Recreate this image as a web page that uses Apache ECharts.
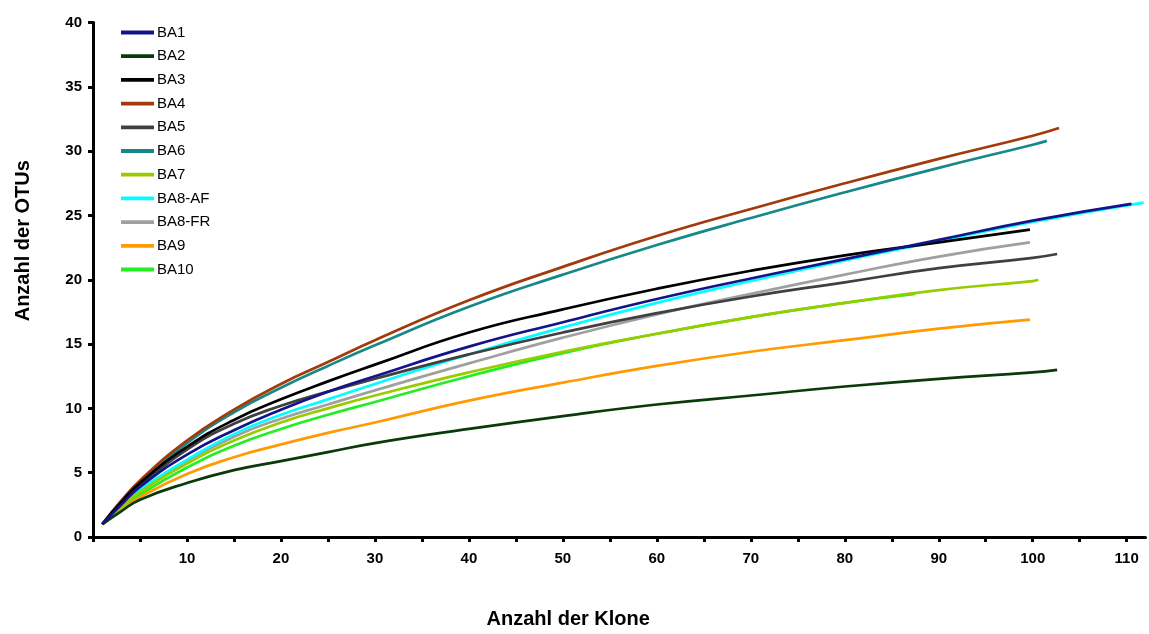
<!DOCTYPE html>
<html><head><meta charset="utf-8">
<script src="https://cdn.jsdelivr.net/npm/echarts@6/dist/echarts.min.js"></script>
<style>html,body{margin:0;padding:0;background:#fff}#c{width:1149px;height:634px}</style>
</head><body><div id="c"></div>
<script>
// Sample sizes (Klone) at which values were read
const xs = [1, 3, 5, 10, 15, 20, 25, 30, 40, 50, 60, 70, 80, 90, 100];
const names = ['BA1','BA2','BA3','BA4','BA5','BA6','BA7','BA8-AF','BA8-FR','BA9','BA10'];
const colors = ['#14148a','#0a3a0a','#000000','#a33a0c','#404040','#178888','#99cc00','#00ffff','#a0a0a0','#ff9a00','#22ee22'];
// OTU values read at xs (truncated where the curve ends)
const BA1  = [1, 2.5, 3.9, 6.4, 8.3, 9.9, 11.3, 12.5, 14.8, 16.7, 18.5, 20.1, 21.6, 23.1, 24.6];
const BA2  = [1, 2.0, 2.9, 4.2, 5.2, 5.9, 6.6, 7.3, 8.4, 9.4, 10.3, 11.0, 11.7, 12.3, 12.8];
const BA3  = [1, 2.7, 4.2, 7.0, 9.1, 10.7, 12.1, 13.4, 15.9, 17.7, 19.3, 20.7, 21.9, 22.9];
const BA4  = [1, 2.8, 4.4, 7.5, 9.9, 11.9, 13.6, 15.3, 18.4, 21.0, 23.4, 25.5, 27.5, 29.4, 31.2];
const BA5  = [1, 2.6, 4.0, 6.8, 8.8, 10.2, 11.3, 12.3, 14.2, 15.9, 17.4, 18.7, 19.8, 20.9, 21.7];
const BA6  = [1, 2.8, 4.3, 7.3, 9.7, 11.6, 13.3, 14.9, 17.9, 20.4, 22.7, 24.8, 26.8, 28.7, 30.5];
const BA7  = [1, 2.3, 3.5, 5.7, 7.5, 8.9, 10.0, 11.0, 12.8, 14.4, 15.8, 17.1, 18.2, 19.2, 19.9];
const BA8AF= [1, 2.4, 3.7, 6.0, 8.0, 9.5, 10.7, 11.9, 14.2, 16.3, 18.2, 19.9, 21.5, 23.0, 24.5];
const BA8FR= [1, 2.4, 3.6, 5.9, 7.8, 9.2, 10.3, 11.4, 13.5, 15.5, 17.3, 18.9, 20.4, 21.8];
const BA9  = [1, 2.1, 3.1, 4.9, 6.2, 7.2, 8.1, 8.9, 10.6, 12.0, 13.3, 14.4, 15.3, 16.2];
const BA10 = [1, 2.2, 3.3, 5.4, 7.1, 8.4, 9.5, 10.5, 12.5, 14.3, 15.8, 17.1, 18.2];
// last point of each curve [x, y]
const endX = [110.5, 102.6, 99.7, 102.8, 102.6, 101.5, 100.6, 111.8, 99.7, 99.7, 87.5];
const endY = [25.9, 13.0, 23.9, 31.8, 22.0, 30.8, 20.0, 26.0, 22.9, 16.9, 18.9];
const values = [BA1, BA2, BA3, BA4, BA5, BA6, BA7, BA8AF, BA8FR, BA9, BA10];

const series = names.map((n, i) => {
  const d = values[i].map((v, j) => [xs[j], v]);
  d.push([endX[i], endY[i]]);
  return {
    name: n, type: 'line', data: d, showSymbol: false, symbol: 'none',
    smooth: 0.5,
    lineStyle: { color: colors[i], width: 2.7 }, itemStyle: { color: colors[i] },
    z: 20 - i
  };
});

const chart = echarts.init(document.getElementById('c'));
const font = '"Liberation Sans", Arial, sans-serif';
chart.setOption({
  animation: false,
  backgroundColor: '#fff',
  grid: { left: 93, right: 3.5, top: 22.5, bottom: 92.3, containLabel: false },
  legend: {
    orient: 'vertical', left: 116, top: 20, itemWidth: 33, itemHeight: 14, itemGap: 8.7,
    data: names.map((n, i) => ({ name: n, icon: 'path://M0,0H33V3.8H0Z' })),
    textStyle: { fontFamily: font, fontSize: 15, color: '#000', padding: [0, 0, 0, -2] }
  },
  xAxis: {
    type: 'value', min: 0, max: 112, interval: 5,
    name: 'Anzahl der Klone', nameLocation: 'middle', nameGap: 72,
    nameTextStyle: { fontFamily: font, fontSize: 20, fontWeight: 'bold', color: '#000', padding: [0, 102, 0, 0] },
    axisLine: { lineStyle: { color: '#000', width: 3 } },
    axisTick: { show: true, length: 5, lineStyle: { color: '#000', width: 3 } },
    axisLabel: {
      margin: 14, fontFamily: font, fontSize: 15, fontWeight: 'bold', color: '#000',
      showMaxLabel: false,
      formatter: v => (v > 0 && v % 10 === 0) ? String(v) : ''
    },
    splitLine: { show: false }
  },
  yAxis: {
    type: 'value', min: 0, max: 40, interval: 5,
    name: 'Anzahl der OTUs', nameLocation: 'middle', nameGap: 60, nameRotate: 90,
    nameTextStyle: { fontFamily: font, fontSize: 20, fontWeight: 'bold', color: '#000', padding: [0, 0, 0, 78] },
    axisLine: { lineStyle: { color: '#000', width: 3 } },
    axisTick: { show: true, length: 5, lineStyle: { color: '#000', width: 3 } },
    axisLabel: { margin: 11, fontFamily: font, fontSize: 15, fontWeight: 'bold', color: '#000' },
    splitLine: { show: false }
  },
  series: series
});
</script></body></html>
